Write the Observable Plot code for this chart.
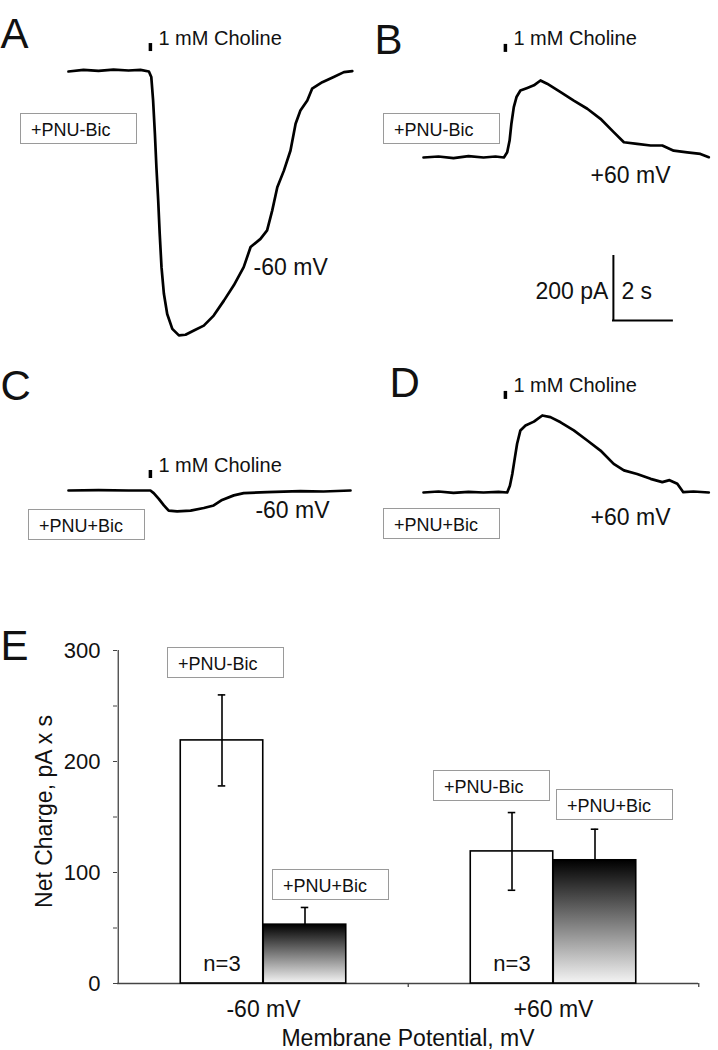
<!DOCTYPE html>
<html><head><meta charset="utf-8">
<script src="https://cdn.jsdelivr.net/npm/d3@7"></script>
<script src="https://cdn.jsdelivr.net/npm/@observablehq/plot@0.6"></script>
<style>
body{margin:0;background:#fff;}
#fig{position:relative;width:718px;height:1050px;overflow:hidden;font-family:"Liberation Sans",Arial,Helvetica,sans-serif;color:#111;}
.panel{position:absolute;}
.panel svg{overflow:visible;display:block;}
.box{position:absolute;box-sizing:border-box;width:117px;height:31px;border:1px solid #9a9a9a;background:#fff;font-size:18px;line-height:22px;padding-top:5px;padding-left:10px;color:#111;white-space:nowrap;}
g[aria-label="stimulus-label"] text{letter-spacing:0.6px;}
</style></head><body><div id="fig"></div>
<script>
// ---------- DATA ----------
// Current traces: time (s) and current (pA)
const traceA_t = [0, 0.5, 1.0, 1.5, 2.0, 2.4, 2.68, 2.76, 2.82, 2.88, 2.93, 2.99, 3.04, 3.10, 3.18, 3.29, 3.46, 3.68, 3.9, 4.18, 4.51, 4.84, 5.18, 5.51, 5.84, 6.07, 6.4, 6.62, 6.79, 6.96, 7.18, 7.4, 7.57, 7.73, 7.96, 8.12, 8.46, 8.84, 9.18, 9.46];
const traceA_I = [0, 5, 2, 6, 3, 5, 0, -17, -89, -192, -294, -397, -499, -602, -684, -746, -792, -812, -810, -797, -782, -751, -705, -658, -602, -540, -515, -489, -428, -356, -305, -243, -161, -120, -89, -53, -33, -17, -2, 1];

const traceB_t = [0, 0.5, 1, 1.5, 2, 2.4, 2.68, 2.79, 2.87, 2.93, 3.01, 3.1, 3.23, 3.46, 3.68, 3.9, 4.12, 4.57, 5.01, 5.46, 5.9, 6.34, 6.68, 7.12, 7.57, 7.96, 8.34, 8.79, 9.23, 9.51];
const traceB_I = [0, 3, -2, 4, 0, 3, 0, 16, 52, 104, 155, 186, 206, 214, 222, 237, 227, 201, 175, 150, 119, 78, 47, 42, 37, 37, 21, 16, 11, 1];

const traceC_t = [0, 1, 2, 2.73, 2.84, 3.01, 3.18, 3.34, 3.62, 4.07, 4.51, 4.84, 5.12, 5.51, 5.84, 6.62, 7.73, 8.5, 9.4];
const traceC_I = [0, 1, 0, 0, -8, -26, -46, -62, -64, -62, -54, -46, -29, -15, -8, -5, -2, -3, 0];

const traceD_t = [0, 0.5, 1, 1.5, 2, 2.5, 2.79, 2.88, 2.96, 3.03, 3.12, 3.23, 3.4, 3.68, 3.96, 4.23, 4.57, 5.01, 5.46, 5.9, 6.34, 6.68, 7.12, 7.57, 7.96, 8.2, 8.46, 8.66, 9.0, 9.51];
const traceD_I = [0, 3, -1, 2, 0, 2, 0, 21, 57, 98, 150, 191, 206, 218, 237, 232, 216, 191, 160, 129, 88, 68, 57, 42, 32, 38, 27, 1, 3, 0];

const stimulusLabel = "1 mM Choline";
const stimulusTime = 2.73;           // s
const scaleBarCurrent = 200;         // pA
const scaleBarTime = 2;              // s
const scaleBarLabels = ["200 pA", "2 s"];

// Bar chart (panel E)
const potentials = ["-60 mV", "+60 mV"];
const conditions = ["+PNU-Bic", "+PNU+Bic"];
const charge_PNUminusBic = [219, 119];
const sem_PNUminusBic = [41, 35];
const charge_PNUplusBic = [53, 111];
const sem_PNUplusBic = [15.5, 28];
const nCells = [3, 3];
const yTicks = [0, 100, 200, 300];
const yMinorTicks = [50, 150, 250];
const yLabel = "Net Charge, pA x s";
const xLabel = "Membrane Potential, mV";

// ---------- LAYOUT ----------
const FONT = '"Liberation Sans", Arial, Helvetica, sans-serif';
const PX_PER_S = 30, PX_PER_PA = 0.325;
const fig = document.getElementById("fig");

const panels = [
  {id:"A", left:0,   top:0,   w:359, h:350, ox:68, oy:71,  t:traceA_t, I:traceA_I, stimTop:86,  letter:{dx:0, dy:18},  vLabel:{text:"-60 mV", t:6.17, I:-625}},
  {id:"B", left:359, top:0,   w:359, h:350, ox:64, oy:157, t:traceB_t, I:traceB_I, stimTop:348, letter:{dx:15, dy:24}, vLabel:{text:"+60 mV", t:5.57, I:-77}, scaleBar:{t:6.33, I:-501.5, labelI:-434}},
  {id:"C", left:0,   top:350, w:359, h:200, ox:68, oy:140, t:traceC_t, I:traceC_I, stimTop:61.5, letter:{dx:0, dy:20}, vLabel:{text:"-60 mV", t:6.23, I:-86}},
  {id:"D", left:359, top:350, w:359, h:200, ox:64, oy:142, t:traceD_t, I:traceD_I, stimTop:311, letter:{dx:30, dy:17}, vLabel:{text:"+60 mV", t:5.57, I:-101.5}}
];

const boxLabels = [
  {text:conditions[0], left:20,  top:113},
  {text:conditions[0], left:383, top:113},
  {text:conditions[1], left:28,  top:509},
  {text:conditions[1], left:383, top:508},
  {text:conditions[0], left:167, top:647},
  {text:conditions[1], left:272, top:869},
  {text:conditions[0], left:433, top:770},
  {text:conditions[1], left:556, top:789}
];

function place(el, left, top) {
  const d = document.createElement("div");
  d.className = "panel";
  d.style.left = left + "px";
  d.style.top = top + "px";
  d.appendChild(el);
  fig.appendChild(d);
}

// ---------- TRACE PANELS ----------
for (const p of panels) {
  const data = p.t.map((t, i) => ({t, I: p.I[i]}));
  const stim = [{t: stimulusTime, top: p.stimTop}];
  const marks = [
    Plot.line(data, {x:"t", y:"I", stroke:"#000", strokeWidth:2.7, strokeLinejoin:"round"}),
    Plot.ruleX(stim, {x:"t", y1:d => d.top - 8 / PX_PER_PA, y2:"top", stroke:"#000", strokeWidth:3.5}),
    Plot.text(stim, {x:"t", y:"top", text:() => stimulusLabel, dx:8, dy:1, textAnchor:"start", lineAnchor:"bottom", fontSize:20, fill:"#111", ariaLabel:"stimulus-label"}),
    Plot.text([p.vLabel], {x:"t", y:"I", text:"text", textAnchor:"start", lineAnchor:"bottom", fontSize:23, fill:"#111"}),
    Plot.text([p.id], {frameAnchor:"top-left", text:d => d, dx:p.letter.dx, dy:p.letter.dy, textAnchor:"start", lineAnchor:"top", fontSize:42, fill:"#111"})
  ];
  if (p.scaleBar) {
    const sb = [p.scaleBar];
    marks.push(
      Plot.ruleX(sb, {x:"t", y1:"I", y2:d => d.I + scaleBarCurrent, stroke:"#000", strokeWidth:2}),
      Plot.ruleY(sb, {y:"I", x1:d => d.t - 0.03, x2:d => d.t + scaleBarTime, stroke:"#000", strokeWidth:2}),
      Plot.text(sb, {x:"t", y:"labelI", text:() => scaleBarLabels[0], dx:-5, textAnchor:"end", lineAnchor:"bottom", fontSize:23, fill:"#111"}),
      Plot.text(sb, {x:"t", y:"labelI", text:() => scaleBarLabels[1], dx:8, textAnchor:"start", lineAnchor:"bottom", fontSize:23, fill:"#111"})
    );
  }
  const svg = Plot.plot({
    width: p.w, height: p.h, margin: 0,
    style: {fontFamily: FONT, background: "transparent", overflow: "visible"},
    x: {domain: [-p.ox / PX_PER_S, (p.w - p.ox) / PX_PER_S], axis: null},
    y: {domain: [(p.oy - p.h) / PX_PER_PA, p.oy / PX_PER_PA], axis: null},
    marks
  });
  place(svg, p.left, p.top);
}

// ---------- BAR CHART (E) ----------
const E = {left:0, top:600, width:718, height:450, marginTop:50, marginBottom:67, marginLeft:117, marginRight:20};
const BW = (E.width - E.marginLeft - E.marginRight) / potentials.length; // band width
const BAR_W = 83;
const barsMinus = potentials.map((p, i) => ({potential:p, value:charge_PNUminusBic[i], err:sem_PNUminusBic[i], n:nCells[i]}));
const barsPlus  = potentials.map((p, i) => ({potential:p, value:charge_PNUplusBic[i],  err:sem_PNUplusBic[i]}));
const AX = "#444";

const eSvg = Plot.plot({
  width:E.width, height:E.height,
  marginTop:E.marginTop, marginBottom:E.marginBottom, marginLeft:E.marginLeft, marginRight:E.marginRight,
  style:{fontFamily:FONT, background:"transparent", color:"#111", overflow:"visible"},
  x:{domain:potentials, padding:0},
  y:{domain:[0, 300]},
  marks:[
    // axes
    Plot.axisY({ticks:yTicks, tickSize:4, tickPadding:13, fontSize:22, label:null, stroke:AX}),
    Plot.axisY({ticks:yMinorTicks, tickSize:4, tickFormat:() => "", label:null, stroke:AX}),
    Plot.axisX({tickSize:0, tickPadding:17, fontSize:23, label:null}),
    Plot.ruleX([potentials[0]], {x:d => d, dx:-BW / 2, y1:0, y2:300, stroke:AX, strokeWidth:1.3}),
    Plot.ruleY([0], {stroke:AX, strokeWidth:1.3}),
    Plot.ruleX(potentials.slice(1), {x:d => d, dx:-BW / 2, y1:0, y2:-3.6, stroke:AX, strokeWidth:1.3}),
    Plot.ruleX([potentials[potentials.length - 1]], {x:d => d, dx:BW / 2, y1:0, y2:-3.6, stroke:AX, strokeWidth:1.3}),
    // error bars hidden partly behind the dark bars
    Plot.ruleX(barsPlus, {x:"potential", dx:BAR_W / 2, y1:d => d.value - d.err, y2:d => d.value + d.err, stroke:"#000", strokeWidth:1.6}),
    Plot.tickY(barsPlus, {x:"potential", y:d => d.value + d.err, dx:BAR_W / 2, insetLeft:(BW - 8) / 2, insetRight:(BW - 8) / 2, stroke:"#000", strokeWidth:1.6}),
    // bars
    Plot.barY(barsMinus, {x:"potential", y:"value", fill:"#fff", stroke:"#000", strokeWidth:1.6, insetLeft:BW / 2 - BAR_W, insetRight:BW / 2}),
    Plot.barY(barsPlus,  {x:"potential", y:"value", fill:"url(#darkGrad)", stroke:"#000", strokeWidth:1.6, insetLeft:BW / 2, insetRight:BW / 2 - BAR_W}),
    // error bars over white bars
    Plot.ruleX(barsMinus, {x:"potential", dx:-BAR_W / 2, y1:d => d.value - d.err, y2:d => d.value + d.err, stroke:"#000", strokeWidth:1.6}),
    Plot.tickY(barsMinus, {x:"potential", y:d => d.value + d.err, dx:-BAR_W / 2, insetLeft:(BW - 8) / 2, insetRight:(BW - 8) / 2, stroke:"#000", strokeWidth:1.6}),
    Plot.tickY(barsMinus, {x:"potential", y:d => d.value - d.err, dx:-BAR_W / 2, insetLeft:(BW - 8) / 2, insetRight:(BW - 8) / 2, stroke:"#000", strokeWidth:1.6}),
    // n labels
    Plot.text(barsMinus, {x:"potential", y:() => 0, text:d => `n=${d.n}`, dx:-BAR_W / 2, dy:-13, lineAnchor:"bottom", fontSize:22, fill:"#111"}),
    // axis titles and panel letter
    Plot.text([xLabel], {frameAnchor:"bottom", text:d => d, dy:62, lineAnchor:"bottom", fontSize:23, fill:"#111"}),
    Plot.text([yLabel], {x:() => potentials[0], y:() => 155, text:d => d, rotate:-90, dx:-BW / 2 - 74, fontSize:23, fill:"#111"}),
    Plot.text(["E"], {frameAnchor:"top-left", text:d => d, dx:-117, dy:-20, textAnchor:"start", lineAnchor:"top", fontSize:42, fill:"#111"})
  ]
});
// gradient for the +PNU+Bic bars
(function addGradient(svg) {
  const ns = "http://www.w3.org/2000/svg";
  const defs = document.createElementNS(ns, "defs");
  const lg = document.createElementNS(ns, "linearGradient");
  lg.setAttribute("id", "darkGrad");
  lg.setAttribute("x1", "0"); lg.setAttribute("y1", "0");
  lg.setAttribute("x2", "0"); lg.setAttribute("y2", "1");
  [["0%", "#000"], ["100%", "#f4f4f4"]].forEach(([o, c]) => {
    const s = document.createElementNS(ns, "stop");
    s.setAttribute("offset", o); s.setAttribute("stop-color", c);
    lg.appendChild(s);
  });
  defs.appendChild(lg);
  svg.insertBefore(defs, svg.firstChild);
})(eSvg);
place(eSvg, E.left, E.top);

// ---------- BOXED CONDITION LABELS ----------
for (const b of boxLabels) {
  const d = document.createElement("div");
  d.className = "box";
  d.style.left = b.left + "px";
  d.style.top = b.top + "px";
  d.textContent = b.text;
  fig.appendChild(d);
}
</script>
</body></html>
